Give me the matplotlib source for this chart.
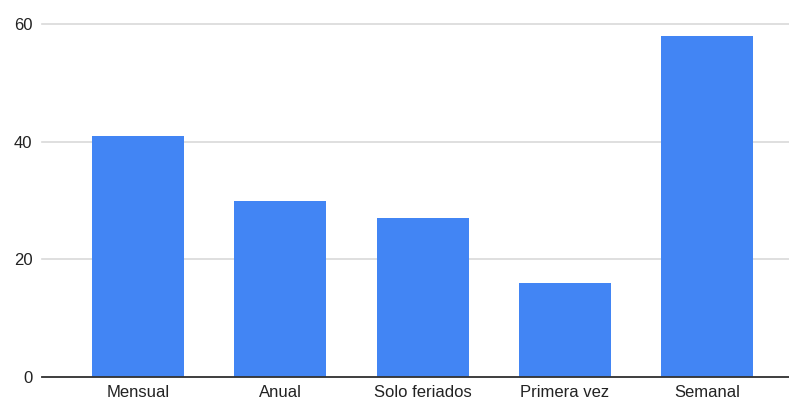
import matplotlib.pyplot as plt

categories = ["Mensual", "Anual", "Solo feriados", "Primera vez", "Semanal"]
values = [41, 30, 27, 16, 58]
y_ticks = [0, 20, 40, 60]

plt.rcParams['font.family'] = ['Liberation Sans', 'DejaVu Sans']

fig = plt.figure(figsize=(7.89, 4.01), dpi=100)
ax = fig.add_axes([42 / 789, 24.3 / 401, 747 / 789, 352.4 / 401])

x = range(len(categories))
ax.bar(x, values, width=0.647, color='#4285f4', zorder=3)

ax.set_xlim(-0.675, 4.576)
ax.set_ylim(0, 60)
ax.set_yticks(y_ticks)
ax.set_xticks(list(x))
ax.set_xticklabels(categories)

ax.grid(axis='y', color='#d9d9d9', linewidth=1.2, zorder=0, clip_on=False)
for line in ax.get_ygridlines():
    line.set_clip_on(False)
for side in ['top', 'right', 'left']:
    ax.spines[side].set_visible(False)
ax.spines['bottom'].set_color('#333333')
ax.spines['bottom'].set_linewidth(1.3)
ax.spines['bottom'].set_zorder(4)

ax.tick_params(axis='both', length=0, labelsize=12, colors='#222222')
ax.tick_params(axis='y', pad=7)
ax.tick_params(axis='x', pad=6)

plt.savefig("out.png", dpi=100)
plt.close()
